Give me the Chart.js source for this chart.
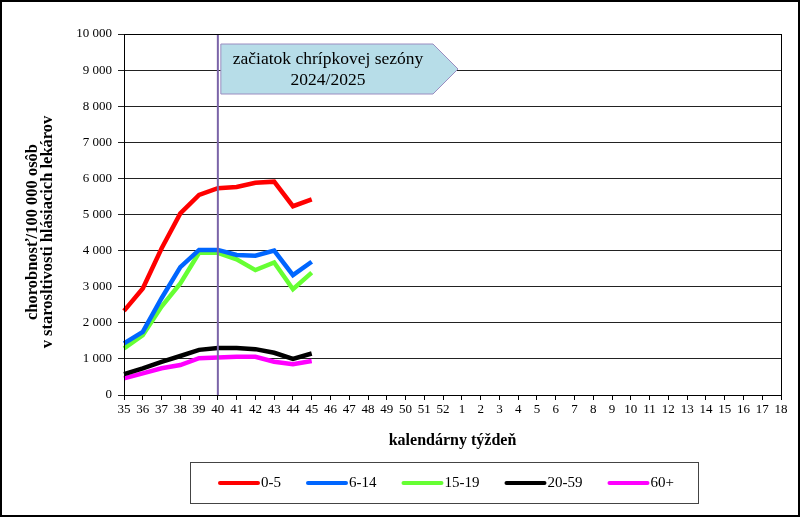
<!DOCTYPE html>
<html>
<head>
<meta charset="utf-8">
<script src="https://cdn.jsdelivr.net/npm/chart.js@4"></script>
<style>
  body { margin: 0; background: #fff; }
  #wrap { width: 800px; height: 517px; }
</style>
</head>
<body>
<div id="wrap"><canvas id="lineChart" width="800" height="517"></canvas></div>
<script>
// calendar weeks of the 2024/2025 season
const weeks = ['35', '36', '37', '38', '39', '40', '41', '42', '43', '44', '45', '46', '47', '48', '49', '50', '51', '52',
    '1', '2', '3', '4', '5', '6', '7', '8', '9', '10', '11', '12', '13', '14', '15', '16', '17', '18'];

const seriesNames = ['0-5', '6-14', '15-19', '20-59', '60+'];
const seriesColors = ['#ff0000', '#0066ff', '#66ff33', '#000000', '#ff00ff'];

// morbidity per 100 000, weeks 35..45
const age0to5 = [2330, 2950, 4060, 5030, 5540, 5730, 5760, 5880, 5910, 5230, 5420];
const age6to14 = [1430, 1750, 2680, 3540, 4020, 4020, 3880, 3860, 4000, 3320, 3690];
const age15to19 = [1290, 1660, 2450, 3090, 3940, 3940, 3760, 3460, 3670, 2930, 3390];
const age20to59 = [580, 740, 920, 1080, 1250, 1300, 1300, 1270, 1170, 1000, 1150];
const age60plus = [460, 600, 740, 830, 1020, 1040, 1060, 1060, 920, 850, 940];

const seasonStartWeek = '40';
const seasonLabel = ['začiatok chrípkovej sezóny', '2024/2025'];
const yTitle = ['chorobnosť/100 000 osôb', 'v starosltivosti hlásiacich lekárov'];

Chart.defaults.font.family = '"Liberation Serif", "Times New Roman", serif';
Chart.defaults.color = '#000';

function fmtThousands(v) {
    return String(v).replace(/\B(?=(\d{3})+(?!\d))/g, ' ');
}

const extras = {
    id: 'extras',
    afterDatasetsDraw(chart) {
        const ctx = chart.ctx;
        const area = chart.chartArea;
        const x = chart.scales.x.getPixelForValue(weeks.indexOf(seasonStartWeek));

        ctx.save();
        // season start line
        ctx.strokeStyle = '#7a64a8';
        ctx.lineWidth = 2;
        ctx.beginPath();
        ctx.moveTo(x, area.top);
        ctx.lineTo(x, area.bottom);
        ctx.stroke();

        // plot frame
        ctx.strokeStyle = '#000';
        ctx.lineWidth = 1;
        ctx.strokeRect(area.left + 0.5, area.top + 0.5, area.right - area.left, area.bottom - area.top);

        // arrow callout
        const l = x + 3, t = 44, r = 458, b = 94, tip = 25;
        ctx.beginPath();
        ctx.moveTo(l, t);
        ctx.lineTo(r - tip, t);
        ctx.lineTo(r, (t + b) / 2);
        ctx.lineTo(r - tip, b);
        ctx.lineTo(l, b);
        ctx.closePath();
        ctx.fillStyle = '#b7dde8';
        ctx.fill();
        ctx.strokeStyle = '#9a8cc0';
        ctx.lineWidth = 1;
        ctx.stroke();
        ctx.fillStyle = '#000';
        ctx.font = '17.5px "Liberation Serif"';
        ctx.textAlign = 'center';
        ctx.textBaseline = 'middle';
        ctx.fillText(seasonLabel[0], 328, 59);
        ctx.fillText(seasonLabel[1], 328, 80);
        ctx.restore();
    },
    afterDraw(chart) {
        const ctx = chart.ctx;
        ctx.save();
        // y axis title (two lines, rotated)
        ctx.font = 'bold 16.5px "Liberation Serif"';
        ctx.fillStyle = '#000';
        ctx.textAlign = 'center';
        ctx.textBaseline = 'middle';
        ctx.save();
        ctx.translate(33, 232);
        ctx.rotate(-Math.PI / 2);
        ctx.fillText(yTitle[0], 0, 0);
        ctx.fillText(yTitle[1], 0, 14.5);
        ctx.restore();

        // legend box
        ctx.strokeStyle = '#444';
        ctx.lineWidth = 1;
        ctx.strokeRect(190.5, 462.5, 508, 41);
        ctx.font = '15px "Liberation Serif"';
        ctx.textBaseline = 'middle';
        ctx.textAlign = 'left';
        let lx = 218;
        const ly = 483;
        chart.data.datasets.forEach(ds => {
            ctx.strokeStyle = ds.borderColor;
            ctx.lineWidth = 4;
            ctx.lineCap = 'round';
            ctx.beginPath();
            ctx.moveTo(lx + 2, ly);
            ctx.lineTo(lx + 40, ly);
            ctx.stroke();
            ctx.fillStyle = '#000';
            ctx.fillText(ds.label, lx + 43, ly);
            lx += 43 + ctx.measureText(ds.label).width + 25;
        });
        // outer frame
        ctx.strokeStyle = '#000';
        ctx.lineWidth = 2;
        ctx.strokeRect(1, 1, 798, 515);
        ctx.restore();
    }
};

const allSeries = [age0to5, age6to14, age15to19, age20to59, age60plus];

new Chart(document.getElementById('lineChart'), {
    type: 'line',
    data: {
        labels: weeks,
        datasets: allSeries.map((vals, i) => ({
            label: seriesNames[i],
            data: vals,
            borderColor: seriesColors[i],
            backgroundColor: seriesColors[i],
            borderWidth: 4.5,
            pointRadius: 0,
            tension: 0,
            fill: false
        }))
    },
    options: {
        responsive: false,
        animation: false,
        layout: { padding: { left: 20, right: 19, top: 34, bottom: 63 } },
        plugins: {
            legend: { display: false },
            tooltip: { enabled: false }
        },
        scales: {
            x: {
                offset: false,
                grid: { drawOnChartArea: false, drawTicks: true, tickLength: 5, color: '#000' },
                border: { color: '#000' },
                ticks: { autoSkip: false, maxRotation: 0, padding: 2, font: { size: 13 } },
                title: { display: true, text: 'kalendárny týždeň', font: { size: 16, weight: 'bold' }, padding: { top: 0, bottom: 4 } },
                afterFit(scale) { scale.height = 59; }
            },
            y: {
                min: 0,
                max: 10000,
                grid: { color: '#222', tickLength: 6 },
                border: { color: '#000' },
                ticks: { stepSize: 1000, padding: 6, font: { size: 13 }, callback: v => fmtThousands(v) },
                title: { display: false },
                afterFit(scale) { scale.width = 104; }
            }
        }
    },
    plugins: [extras]
});
</script>
</body>
</html>
